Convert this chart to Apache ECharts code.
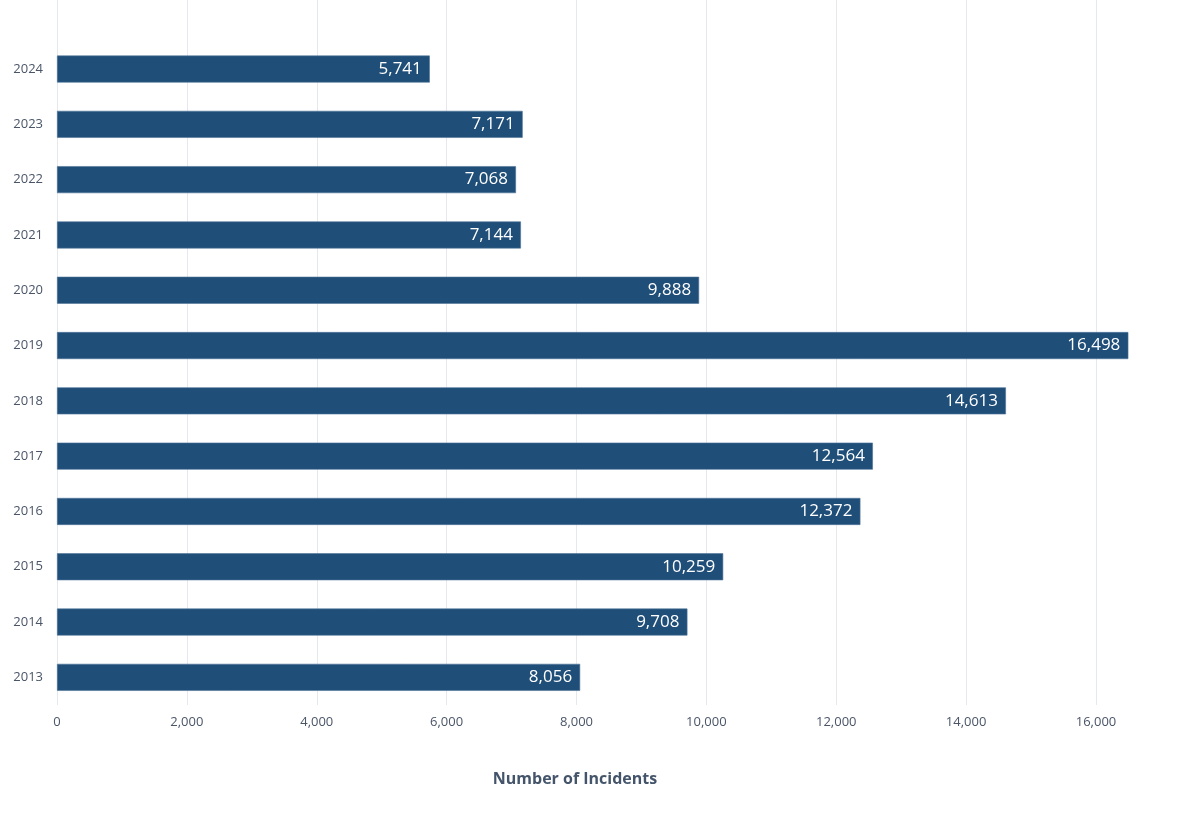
<!DOCTYPE html>
<html><head><meta charset="utf-8">
<script src="https://cdn.jsdelivr.net/npm/echarts@6/dist/echarts.min.js"></script>
<style>html,body{margin:0;padding:0;background:#fff}#c{width:1200px;height:826px}</style>
</head><body><div id="c"></div>
<script>
const years = ['2013','2014','2015','2016','2017','2018','2019','2020','2021','2022','2023','2024'];
const incidents = [8056, 9708, 10259, 12372, 12564, 14613, 16498, 9888, 7144, 7068, 7171, 5741];
const axisTitle = 'Number of Incidents';
const xMax = 16000, xStep = 2000;

const font = '"Open Sans", "Noto Sans", sans-serif';
const chart = echarts.init(document.getElementById('c'), null, {renderer: 'canvas'});
chart.setOption({
  animation: false,
  textStyle: {fontFamily: font},
  title: {
    text: axisTitle, left: 570, top: 766, textAlign: 'center',
    textStyle: {fontFamily: font, fontSize: 16, fontWeight: 'bold', color: '#44546a'}
  },
  grid: [
    {left: 57, right: 104, top: 0, bottom: 121, containLabel: false},
    {left: 57, right: 104, top: 41.4, bottom: 121, containLabel: false}
  ],
  xAxis: [
    {gridIndex: 0, type: 'value', min: 0, max: xMax, interval: xStep,
     axisLine: {show: false}, axisTick: {show: false},
     splitLine: {show: true, lineStyle: {color: '#e6e8ee', width: 1}},
     axisLabel: {color: '#4a5568', fontSize: 13, margin: 11, fontFamily: font,
       formatter: v => v.toLocaleString('en-US')}},
    {gridIndex: 1, type: 'value', min: 0, max: xMax, interval: xStep, show: false,
     splitLine: {show: false}}
  ],
  yAxis: [
    {gridIndex: 0, type: 'value', show: false, splitLine: {show: false}},
    {gridIndex: 1, type: 'category', data: years,
     axisLine: {show: false}, axisTick: {show: false},
     axisLabel: {color: '#4a5568', fontSize: 13, margin: 14, fontFamily: font}}
  ],
  series: [{
    type: 'bar', xAxisIndex: 1, yAxisIndex: 1, data: incidents,
    barWidth: 27, clip: false,
    itemStyle: {color: '#1f4e78', borderColor: '#4f7399', borderWidth: 0.6},
    label: {show: true, position: 'insideRight', distance: 8, color: '#ffffff',
      fontSize: 17, fontFamily: font, formatter: p => p.value.toLocaleString('en-US')}
  }]
});
</script></body></html>
